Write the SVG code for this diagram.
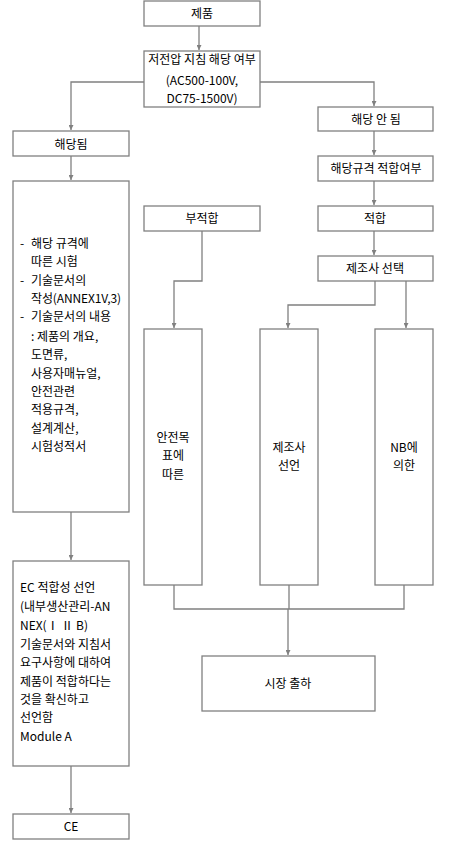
<svg xmlns="http://www.w3.org/2000/svg" width="455" height="846" viewBox="0 0 455 846">
<style>
.b{fill:#fff;stroke:#808080;stroke-width:1.3}
.c{fill:none;stroke:#808080;stroke-width:1.3}
text{font-family:"Malgun Gothic","Noto Sans CJK KR","Noto Sans",sans-serif;font-size:12px;fill:#000}
.m{text-anchor:middle}
</style>
<defs>
<marker id="ar" viewBox="0 0 10 10" refX="10" refY="5" markerWidth="5" markerHeight="5" markerUnits="userSpaceOnUse" orient="auto">
<path d="M0,0 L10,5 L0,10 z" fill="#808080"/>
</marker>
</defs>
<rect width="455" height="846" fill="#fff"/>
<g id="connectors">
<path class="c" d="M199,26 V50" marker-end="url(#ar)"/>
<path class="c" d="M144,82 H71 V130" marker-end="url(#ar)"/>
<path class="c" d="M260,82 H374 V106" marker-end="url(#ar)"/>
<path class="c" d="M374,131 V155" marker-end="url(#ar)"/>
<path class="c" d="M71,156 V180" marker-end="url(#ar)"/>
<path class="c" d="M374,181 V205" marker-end="url(#ar)"/>
<path class="c" d="M374,231 V255" marker-end="url(#ar)"/>
<path class="c" d="M202,231 V281 H174 V328" marker-end="url(#ar)"/>
<path class="c" d="M375,281 V305 H288 V328" marker-end="url(#ar)"/>
<path class="c" d="M406,281 V328" marker-end="url(#ar)"/>
<path class="c" d="M174,585 V609 H404 V585 M289,585 V609 M288,609 V655" marker-end="url(#ar)"/>
<path class="c" d="M71,512 V560" marker-end="url(#ar)"/>
<path class="c" d="M71,766 V813" marker-end="url(#ar)"/>
</g>
<g id="n1"><rect class="b" x="144" y="1" width="116" height="25"/><text class="m" x="202" y="18">제품</text></g>
<g id="n2"><rect class="b" x="144" y="51" width="116" height="56"/>
<text class="m" x="202" y="63.5">저전압 지침 해당 여부</text>
<text class="m" x="202" y="85">(AC500-100V,</text>
<text class="m" x="202" y="103">DC75-1500V)</text></g>
<g id="n3"><rect class="b" x="13" y="131" width="116" height="25"/><text class="m" x="71" y="148.5">해당됨</text></g>
<g id="n4"><rect class="b" x="318" y="107" width="115" height="24"/><text class="m" x="376" y="123.5">해당 안 됨</text></g>
<g id="n5"><rect class="b" x="318" y="156" width="115" height="25"/><text class="m" x="376" y="173">해당규격 적합여부</text></g>
<g id="n6"><rect class="b" x="13" y="181" width="116" height="331"/>
<text x="20" y="247.5">-</text><text x="31" y="247.5">해당 규격에</text>
<text x="31" y="265.5">따른 시험</text>
<text x="20" y="284.5">-</text><text x="31" y="284.5">기술문서의</text>
<text x="31" y="302.5" textLength="90">작성(ANNEX1V,3)</text>
<text x="20" y="320.5">-</text><text x="31" y="320.5">기술문서의 내용</text>
<text x="31" y="340.5">: 제품의 개요,</text>
<text x="31" y="358.5">도면류,</text>
<text x="31" y="377.5">사용자매뉴얼,</text>
<text x="31" y="395.5">안전관련</text>
<text x="31" y="413.5">적용규격,</text>
<text x="31" y="432.5">설계계산,</text>
<text x="31" y="450.5">시험성적서</text></g>
<g id="n7"><rect class="b" x="144" y="206" width="116" height="25"/><text class="m" x="202" y="223">부적합</text></g>
<g id="n8"><rect class="b" x="318" y="206" width="115" height="25"/><text class="m" x="375" y="223">적합</text></g>
<g id="n9"><rect class="b" x="318" y="256" width="115" height="25"/><text class="m" x="375" y="273">제조사 선택</text></g>
<g id="n10"><rect class="b" x="144" y="329" width="58" height="256"/>
<text class="m" x="173" y="441.5">안전목</text><text class="m" x="173" y="459.5">표에</text><text class="m" x="173" y="478.5">따른</text></g>
<g id="n11"><rect class="b" x="260" y="329" width="58" height="256"/>
<text class="m" x="289" y="451.5">제조사</text><text class="m" x="289" y="469.5">선언</text></g>
<g id="n12"><rect class="b" x="375" y="329" width="58" height="256"/>
<text class="m" x="404" y="451.5">NB에</text><text class="m" x="404" y="469.5">의한</text></g>
<g id="n13"><rect class="b" x="202" y="656" width="173" height="55"/><text class="m" x="288" y="687.5">시장 출하</text></g>
<g id="n14"><rect class="b" x="13" y="561" width="116" height="205"/>
<text x="20" y="591.5">EC 적합성 선언</text>
<text x="20" y="611">(내부생산관리-AN</text>
<text x="20" y="629.5">NEX(Ⅰ Ⅱ B)</text>
<text x="20" y="648.5">기술문서와 지침서</text>
<text x="20" y="667">요구사항에 대하여</text>
<text x="20" y="685.5">제품이 적합하다는</text>
<text x="20" y="703.5">것을 확신하고</text>
<text x="20" y="722">선언함</text>
<text x="20" y="741">Module A</text></g>
<g id="n15"><rect class="b" x="13" y="814" width="116" height="25"/><text class="m" x="71" y="831">CE</text></g>
</svg>
